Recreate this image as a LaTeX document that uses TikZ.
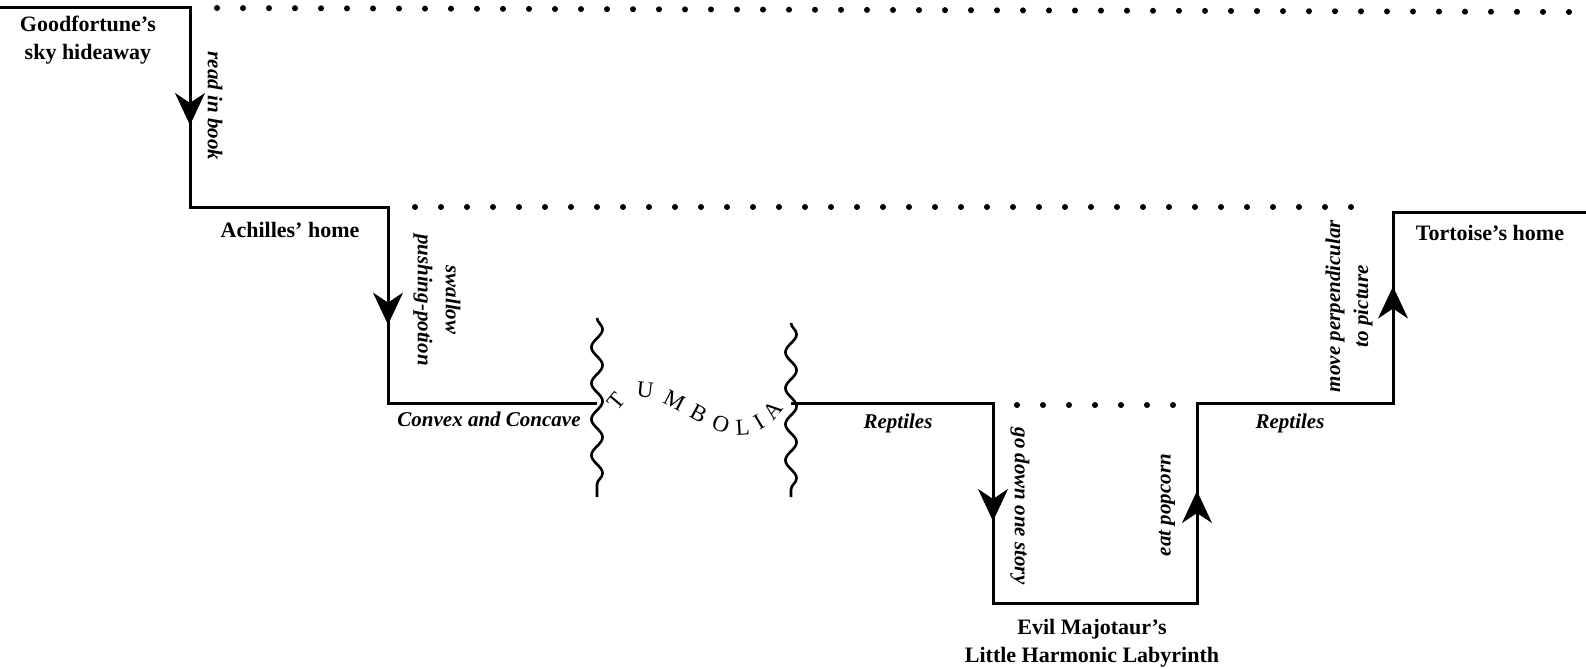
\documentclass[tikz,border=0pt]{standalone}
\usepackage{fontspec}
\setmainfont{Liberation Serif}
\usetikzlibrary{arrows.meta,decorations.markings,decorations.pathmorphing,decorations.text}

\begin{document}
\begin{tikzpicture}[x=0.5pt, y=-0.5pt,
  route/.style={line width=1.5pt},
  dotline/.style={line width=3pt, line cap=round, dash pattern=on 0pt off 13pt},
  wave/.style={line width=1.3pt, decorate,
    decoration={snake, segment length=18pt, amplitude=2.8pt}},
  midarrow/.style={postaction={decorate}, decoration={markings,
    mark=at position #1 with {\arrow{Stealth[length=16pt,width=15pt,inset=5pt]}}}},
  place/.style={font=\bfseries\fontsize{11}{14}\selectfont, align=center},
  act/.style={font=\bfseries\itshape\fontsize{10.5}{14}\selectfont, align=center}]
  \useasboundingbox (0,0) rectangle (1586,669);

  \coordinate (sky) at (0,7);
  \coordinate (skyc) at (190,7);
  \coordinate (achl) at (190,207);
  \coordinate (achr) at (388,207);
  \coordinate (convl) at (388,403);
  \coordinate (tumbl) at (597,403);
  \coordinate (tumbr) at (791,403);
  \coordinate (reptl) at (993,403);
  \coordinate (labl) at (993,603);
  \coordinate (labr) at (1197,603);
  \coordinate (reptr) at (1197,403);
  \coordinate (tortl) at (1393,403);
  \coordinate (tortc) at (1393,212);
  \coordinate (tortr) at (1586,212);

  \draw[route] (sky) -- (skyc) -- (achl) -- (achr) -- (convl) -- (tumbl);
  \draw[route] (tumbr) -- (reptl) -- (labl) -- (labr) -- (reptr) -- (tortl)
    -- (tortc) -- (tortr);
  \path[midarrow=0.59] (skyc) -- (achl);
  \path[midarrow=0.60] (achr) -- (convl);
  \path[midarrow=0.59] (reptl) -- (labl);
  \path[midarrow=0.56] (labr) -- (reptr);
  \path[midarrow=0.61] (tortl) -- (tortc);

  \draw[dotline] (217,8) -- (1576,12);
  \draw[dotline] (415,207) -- (1372,207);
  \draw[dotline] (1017,405) -- (1175,405);

  \draw[wave] (597,318) -- (597,497);
  \draw[wave] (791,323) -- (791,497);
  \path[decorate, decoration={text along path, text align=fit to path,
    text={|\fontsize{11.5}{12}\selectfont|TUMBOLIA}}]
    (618,412) .. controls (652,354) and (728,490) .. (784,408);

  \node[place] (goodfortune) at (88,40) {Goodfortune's\\sky hideaway};
  \node[place] (achilles) at (290,230) {Achilles' home};
  \node[place] (tortoise) at (1490,233) {Tortoise's home};
  \node[place] (majotaur) at (1092,643) {Evil Majotaur's\\Little Harmonic Labyrinth};

  \node[act, rotate=-90] (book) at (215,106) {read in book};
  \node[act, rotate=-90] (potion) at (437,300) {swallow\\pushing-potion};
  \node[act] (convex) at (489,419) {Convex and Concave};
  \node[act] (reptiles1) at (898,423) {Reptiles};
  \node[act, rotate=-90] (story) at (1020,506) {go down one story};
  \node[act, rotate=90] (popcorn) at (1167,505) {eat popcorn};
  \node[act] (reptiles2) at (1290,423) {Reptiles};
  \node[act, rotate=90] (perp) at (1349,306) {move perpendicular\\to picture};
\end{tikzpicture}
\end{document}
